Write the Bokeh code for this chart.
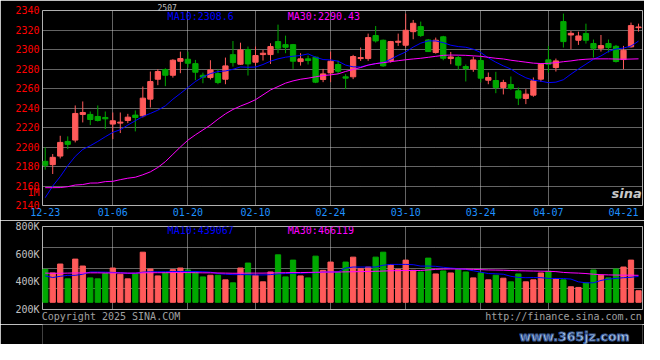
from bokeh.plotting import figure
from bokeh.models import Range1d, FixedTicker, Label, ColumnDataSource
from bokeh.layouts import column
from bokeh.embed import file_html
from bokeh.resources import INLINE

# ---------------- data ----------------
dates = ["12-23", "12-24", "12-25", "12-26", "12-27", "12-30", "12-31",
         "01-02", "01-03", "01-06", "01-07", "01-08", "01-09", "01-10",
         "01-13", "01-14", "01-15", "01-16", "01-17",
         "01-20", "01-21", "01-22", "01-23", "01-24", "01-27",
         "02-05", "02-06", "02-07", "02-10", "02-11", "02-12", "02-13", "02-14",
         "02-17", "02-18", "02-19", "02-20", "02-21",
         "02-24", "02-25", "02-26", "02-27", "02-28",
         "03-03", "03-04", "03-05", "03-06", "03-07",
         "03-10", "03-11", "03-12", "03-13", "03-14",
         "03-17", "03-18", "03-19", "03-20", "03-21",
         "03-24", "03-25", "03-26", "03-27", "03-28", "03-31",
         "04-01", "04-02", "04-03", "04-07", "04-08", "04-09", "04-10", "04-11",
         "04-14", "04-15", "04-16", "04-17", "04-18", "04-21", "04-22", "04-23"]

label_dates = ["12-23", "01-06", "01-20", "02-10", "02-24", "03-10", "03-24", "04-07", "04-21"]
grid_dates = ["01-06", "01-20", "02-10", "02-24", "03-10", "03-24", "04-07"]

open_ = [2185.3, 2181.9, 2190.7, 2205.7, 2207.1, 2233.4, 2233.4, 2231.3, 2230.3, 2223.5,
         2224.5, 2227.2, 2232.7, 2232.0, 2249.1, 2269.5, 2279.4, 2273.6, 2287.9, 2290.0,
         2285.5, 2273.6, 2271.2, 2275.3, 2269.5, 2294.7, 2284.9, 2299.9, 2287.0, 2294.8,
         2294.8, 2308.1, 2305.0, 2305.0, 2287.6, 2290.4, 2292.1, 2269.2, 2276.0, 2284.6,
         2272.0, 2272.0, 2290.7, 2290.7, 2314.3, 2309.5, 2288.3, 2307.4, 2304.4, 2318.3,
         2323.5, 2309.8, 2296.9, 2313.0, 2290.7, 2291.7, 2282.5, 2279.8, 2288.7, 2268.5,
         2268.2, 2261.0, 2264.1, 2257.6, 2249.8, 2253.2, 2269.6, 2289.4, 2281.5, 2328.6,
         2314.9, 2309.5, 2316.3, 2306.1, 2301.3, 2306.1, 2303.3, 2289.7, 2302.7, 2322.4]
high = [2199.6, 2192.8, 2211.5, 2210.9, 2242.6, 2246.7, 2236.4, 2242.6, 2236.4, 2235.4,
        2235.4, 2234.0, 2237.5, 2262.0, 2277.4, 2279.7, 2280.8, 2290.0, 2297.8, 2297.8,
        2289.3, 2276.3, 2289.0, 2279.7, 2291.7, 2308.7, 2307.0, 2303.0, 2303.0, 2299.6,
        2306.4, 2325.5, 2314.2, 2305.7, 2296.2, 2293.8, 2292.7, 2280.1, 2297.9, 2288.6,
        2274.7, 2294.5, 2302.0, 2316.3, 2324.1, 2310.2, 2308.8, 2316.3, 2336.8, 2330.3,
        2328.6, 2310.8, 2312.2, 2314.0, 2297.5, 2293.4, 2284.6, 2292.7, 2293.4, 2276.4,
        2277.1, 2268.9, 2272.3, 2261.0, 2259.3, 2271.3, 2285.9, 2303.7, 2290.7, 2336.8,
        2319.0, 2318.3, 2326.5, 2310.2, 2314.9, 2310.2, 2304.7, 2303.7, 2327.6, 2326.5]
low = [2176.8, 2172.3, 2188.3, 2197.9, 2204.7, 2225.2, 2222.5, 2226.2, 2218.4, 2208.1,
       2214.3, 2224.5, 2216.0, 2230.3, 2240.5, 2263.4, 2262.4, 2271.2, 2275.7, 2281.4,
       2268.5, 2265.4, 2269.2, 2264.4, 2264.4, 2282.5, 2284.2, 2273.3, 2283.5, 2288.7,
       2285.2, 2296.2, 2296.2, 2280.1, 2283.5, 2284.6, 2265.5, 2266.5, 2266.5, 2275.0,
       2259.4, 2269.6, 2288.3, 2288.3, 2307.1, 2282.2, 2286.6, 2303.7, 2302.0, 2310.5,
       2312.9, 2297.5, 2295.8, 2289.0, 2284.9, 2279.1, 2267.2, 2277.1, 2266.2, 2264.4,
       2255.2, 2253.9, 2258.6, 2243.0, 2244.0, 2251.5, 2266.8, 2276.4, 2277.4, 2302.0,
       2300.3, 2304.7, 2306.1, 2291.7, 2297.9, 2296.9, 2286.6, 2279.8, 2302.0, 2318.3]
close = [2181.2, 2189.4, 2204.7, 2202.7, 2234.4, 2235.4, 2228.2, 2227.2, 2228.9, 2226.9,
         2225.5, 2230.6, 2230.3, 2250.1, 2267.1, 2277.4, 2273.6, 2289.0, 2290.7, 2285.9,
         2276.7, 2271.6, 2279.1, 2266.1, 2283.2, 2286.6, 2299.5, 2285.2, 2293.8, 2296.2,
         2303.0, 2301.3, 2302.3, 2288.0, 2290.4, 2288.7, 2266.5, 2275.0, 2288.0, 2277.7,
         2270.6, 2292.8, 2291.7, 2312.2, 2308.8, 2283.2, 2308.1, 2308.5, 2319.7, 2326.9,
         2314.3, 2297.9, 2309.5, 2291.0, 2292.4, 2283.9, 2280.5, 2289.3, 2270.6, 2271.3,
         2261.0, 2266.2, 2260.0, 2250.1, 2254.2, 2267.9, 2284.9, 2284.9, 2288.3, 2308.1,
         2316.6, 2313.9, 2309.5, 2301.3, 2304.0, 2302.0, 2287.7, 2299.2, 2324.5, 2323.1]

ma10 = [2148.0, 2160.0, 2169.6, 2180.8, 2190.4, 2197.5, 2201.3, 2205.7, 2210.5, 2215.0,
        2217.7, 2222.5, 2226.9, 2231.3, 2234.4, 2237.8, 2242.2, 2249.0, 2254.9, 2261.0,
        2267.1, 2271.9, 2275.3, 2277.4, 2278.0, 2279.7, 2282.1, 2281.8, 2282.0, 2284.6,
        2288.0, 2290.4, 2292.1, 2293.1, 2293.8, 2295.5, 2292.1, 2289.7, 2289.3, 2288.0,
        2284.0, 2282.2, 2282.2, 2284.0, 2285.5, 2286.6, 2290.0, 2294.0, 2297.5, 2302.5,
        2306.5, 2308.8, 2308.8, 2307.0, 2304.4, 2303.0, 2302.3, 2300.3, 2296.9, 2291.4,
        2287.0, 2283.2, 2280.0, 2275.0, 2271.0, 2268.5, 2267.5, 2266.0, 2266.5, 2269.0,
        2274.7, 2280.0, 2285.0, 2290.0, 2293.4, 2298.0, 2300.5, 2301.5, 2303.5, 2308.6]
ma30 = [2158.3, 2158.3, 2158.4, 2159.3, 2161.0, 2161.5, 2163.0, 2163.1, 2164.5, 2164.8,
        2166.5, 2168.0, 2169.0, 2171.5, 2174.5, 2179.0, 2185.0, 2192.5, 2200.0, 2207.0,
        2212.5, 2217.5, 2222.5, 2228.5, 2234.0, 2238.5, 2242.0, 2245.0, 2248.5, 2253.5,
        2258.5, 2262.0, 2265.5, 2267.8, 2269.5, 2270.6, 2272.0, 2273.3, 2274.0, 2275.0,
        2277.5, 2279.5, 2281.5, 2284.0, 2285.5, 2286.5, 2287.5, 2288.5, 2289.5, 2290.3,
        2291.0, 2292.0, 2293.0, 2294.0, 2294.3, 2294.2, 2294.0, 2293.5, 2293.0, 2292.0,
        2291.0, 2290.3, 2289.0, 2288.0, 2287.0, 2286.0, 2285.6, 2285.8, 2286.5, 2287.5,
        2288.3, 2289.4, 2290.0, 2290.4, 2290.4, 2290.4, 2290.2, 2290.0, 2290.2, 2290.43]

volume = [490500, 464300, 528600, 421400, 564300, 514300, 428600, 421400, 459500, 500000,
          454800, 421400, 457100, 614300, 492900, 442800, 466700, 488100, 500000, 485700,
          473800, 435700, 447600, 447600, 414300, 392800, 500000, 535700, 447600, 400000,
          471400, 595200, 435700, 557100, 442800, 428600, 585700, 483000, 542900, 466700,
          542900, 578600, 495200, 507100, 578600, 614300, 523800, 490500, 557100, 483300,
          471400, 571400, 457100, 478600, 464300, 490500, 471400, 428600, 464300, 414300,
          447600, 426200, 400000, 457100, 400000, 414300, 464300, 476200, 423800, 414300,
          364300, 359500, 392800, 485700, 447600, 428600, 492900, 507100, 557100, 335700]
vol_ma10 = [443000, 431000, 440000, 447000, 447000, 455000, 471000, 471000, 470000, 468000,
            466000, 462000, 462000, 470000, 473000, 473000, 473000, 475000, 475000, 475000,
            475000, 473000, 470000, 460000, 455000, 452000, 452000, 452000, 450000, 450000,
            452000, 458000, 460000, 462000, 462000, 465000, 466000, 471000, 471000, 472000,
            500000, 507000, 507000, 507000, 507000, 520000, 526000, 526000, 526000, 524000,
            514000, 514000, 512000, 505000, 500000, 495000, 490000, 480000, 470000, 460000,
            458000, 455000, 440000, 432000, 430000, 431000, 430000, 425000, 424000, 424000,
            420000, 400000, 393000, 393000, 410000, 420000, 425000, 430000, 433000, 439067]
vol_ma30 = [463000, 462000, 462000, 463000, 464000, 464000, 465000, 465000, 464000, 464000,
            464000, 463000, 463000, 465000, 466000, 466000, 466000, 467000, 467000, 467000,
            466000, 465000, 465000, 464000, 463000, 462000, 462000, 463000, 463000, 463000,
            464000, 465000, 466000, 467000, 467000, 468000, 469000, 470000, 471000, 471000,
            472000, 473000, 474000, 475000, 476000, 478000, 480000, 481000, 482000, 482000,
            482000, 486000, 490000, 492000, 493000, 493000, 492000, 490000, 488000, 486000,
            485000, 484000, 482000, 480000, 479000, 478000, 477000, 476000, 474000, 468000,
            465000, 463000, 460000, 455000, 452000, 450000, 449000, 448000, 448000, 447000]

price_ticks = [2140, 2160, 2180, 2200, 2220, 2240, 2260, 2280, 2300, 2320, 2340]
vol_ticks = [200000, 400000, 600000, 800000]
vol_tick_labels = ["200K", "400K", "600K", "800K"]
vol_extra_label = "1M"

title_text = "2507"
ma_price_legend = ["MA10:2308.6", "MA30:2290.43"]
ma_vol_legend = ["MA10:439067", "MA30:466119"]
footer_left = "Copyright 2025 SINA.COM"
footer_right = "http://finance.sina.com.cn"
watermark = "www.365jz.com"

# ---------------- styles ----------------
UP = "#ff5a5a"
DOWN = "#00a800"
GRID = "#c8c8c8"
MONO = "DejaVu Sans Mono"
BLUE = "#0000ff"
MAGENTA = "#ff00ff"
VOL_FLOOR = 252000

idx = list(range(len(dates)))
colors = [UP if c >= o else DOWN for o, c in zip(open_, close)]
src = ColumnDataSource(dict(x=idx, o=open_, h=high, l=low, c=close,
                            top=[max(a, b) for a, b in zip(open_, close)],
                            bot=[min(a, b) for a, b in zip(open_, close)],
                            color=colors, vol=volume, vma10=vol_ma10, vma30=vol_ma30,
                            ma10=ma10, ma30=ma30))

label_pos = [dates.index(d) for d in label_dates]
grid_pos = [dates.index(d) for d in grid_dates]

xr = Range1d(-0.36, 79.53)


def style(p):
    p.background_fill_color = "black"
    p.border_fill_color = "black"
    p.outline_line_color = "#b0b0b0"
    p.outline_line_width = 1
    for g in (p.xgrid, p.ygrid):
        g.grid_line_color = GRID
        g.grid_line_dash = "1 1"
        g.grid_line_width = 1
    for ax in (p.xaxis, p.yaxis):
        ax.axis_line_color = None
        ax.major_tick_line_color = None
        ax.minor_tick_line_color = None
        ax.major_tick_out = 0
        ax.major_tick_in = 0
        ax.minor_tick_out = 0
        ax.minor_tick_in = 0
        ax.major_label_text_font = MONO
        ax.major_label_text_font_size = "10px"


# ---------------- price panel ----------------
p1 = figure(width=644, height=220, x_range=xr, y_range=Range1d(2140, 2340),
            output_backend="svg", toolbar_location=None, title=title_text,
            min_border_left=42, min_border_right=2, min_border_top=10, min_border_bottom=15)
style(p1)
p1.title.text_font = MONO
p1.title.text_font_size = "8px"
p1.title.text_font_style = "normal"
p1.title.text_color = "#c0c0c0"
p1.title.align = "left"
p1.title.offset = 115
p1.title.standoff = 0

vol_1m_pos = 2153.6
p1.yaxis.ticker = FixedTicker(ticks=price_ticks + [vol_1m_pos])
p1.yaxis.major_label_overrides = {vol_1m_pos: vol_extra_label}
p1.yaxis.major_label_text_color = "#ff0000"
p1.yaxis.major_label_standoff = 3
p1.xaxis.ticker = FixedTicker(ticks=label_pos)
p1.xaxis.major_label_overrides = {pos: d for pos, d in zip(label_pos, label_dates)}
p1.xaxis.major_label_text_color = "#1e90ff"
p1.xaxis.major_label_standoff = 2
p1.ygrid.ticker = FixedTicker(ticks=price_ticks[1:-1])
p1.xgrid.ticker = FixedTicker(ticks=grid_pos)

p1.segment(x0="x", y0="l", x1="x", y1="h", line_color="color", line_width=1, source=src)
p1.vbar(x="x", width=0.7, top="top", bottom="bot", fill_color="color",
        line_color="color", line_width=1, source=src)
p1.line(x="x", y="ma10", line_color=BLUE, line_width=1, source=src)
p1.line(x="x", y="ma30", line_color=MAGENTA, line_width=1, source=src)

p1.add_layout(Label(x=16.3, y=2333.7, text=ma_price_legend[0], text_color=BLUE,
                    text_font=MONO, text_font_size="10px", text_baseline="middle"))
p1.add_layout(Label(x=32.3, y=2333.7, text=ma_price_legend[1], text_color=MAGENTA,
                    text_font=MONO, text_font_size="10px", text_baseline="middle"))
p1.add_layout(Label(x=75.4, y=2152.6, text="sina", text_color="#c8c8c8",
                    text_font="DejaVu Sans", text_font_size="13px",
                    text_font_style="bold italic", text_baseline="middle"))

# ---------------- volume panel ----------------
p2 = figure(width=644, height=104, x_range=xr, y_range=Range1d(200000, 800000),
            output_backend="svg", toolbar_location=None,
            min_border_left=42, min_border_right=2, min_border_top=6, min_border_bottom=14)
style(p2)
footer_pos = [8.76, 69.0]
p2.xaxis.ticker = FixedTicker(ticks=footer_pos)
p2.xaxis.major_label_overrides = {footer_pos[0]: footer_left, footer_pos[1]: footer_right}
p2.xaxis.major_label_text_color = "#a0a0a0"
p2.xaxis.major_label_standoff = 1
p2.yaxis.ticker = FixedTicker(ticks=vol_ticks)
p2.yaxis.major_label_overrides = {t: s for t, s in zip(vol_ticks, vol_tick_labels)}
p2.yaxis.major_label_text_color = "#c0c0c0"
p2.yaxis.major_label_standoff = 3
p2.ygrid.ticker = FixedTicker(ticks=[350000, 500000, 650000])
p2.xgrid.ticker = FixedTicker(ticks=grid_pos)

p2.vbar(x="x", width=0.7, top="vol", bottom=VOL_FLOOR, fill_color="color",
        line_color="color", line_width=1, source=src)
p2.line(x="x", y="vma10", line_color=BLUE, line_width=1, source=src)
p2.line(x="x", y="vma30", line_color=MAGENTA, line_width=1, source=src)

p2.add_layout(Label(x=16.3, y=771000, text=ma_vol_legend[0], text_color=BLUE,
                    text_font=MONO, text_font_size="10px", text_baseline="middle"))
p2.add_layout(Label(x=32.3, y=771000, text=ma_vol_legend[1], text_color=MAGENTA,
                    text_font=MONO, text_font_size="10px", text_baseline="middle"))

# ---------------- footer strip (watermark) ----------------
p3 = figure(width=644, height=20, x_range=Range1d(0, 644), y_range=Range1d(0, 20),
            output_backend="svg", toolbar_location=None,
            min_border_left=0, min_border_right=0, min_border_top=0, min_border_bottom=0)
p3.background_fill_color = "black"
p3.border_fill_color = "black"
p3.outline_line_color = None
p3.axis.visible = False
p3.grid.visible = False
p3.add_layout(Label(x=512, y=8, text=watermark, text_color="#b8d0ec",
                    text_font="DejaVu Sans", text_font_size="12.5px", text_font_style="bold",
                    text_baseline="middle", text_outline_color="#3a5a96"))

layout = column(p1, p2, p3, spacing=0)
open("out.html", "w").write(file_html(layout, INLINE))
